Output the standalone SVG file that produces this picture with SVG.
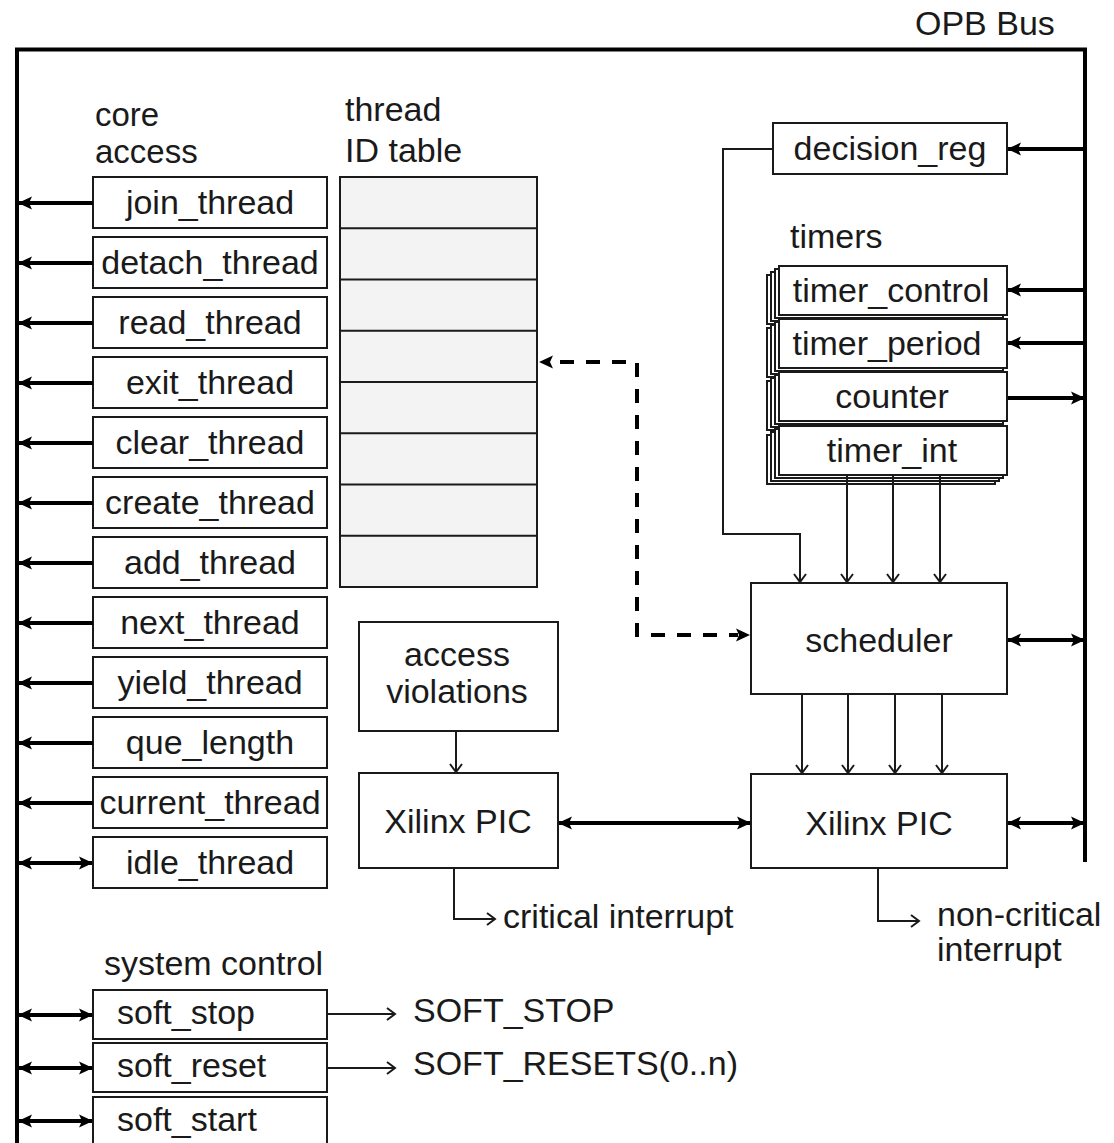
<svg xmlns="http://www.w3.org/2000/svg" width="1114" height="1143" viewBox="0 0 1114 1143">
<defs>
<style>
text{font-family:"Liberation Sans",Arial,sans-serif;font-size:34px;fill:#1a1a1a}
.c{text-anchor:middle}
.box{fill:#fff;stroke:#1a1a1a;stroke-width:2}
.tbl{fill:#f3f3f3;stroke:#1a1a1a;stroke-width:2}
.thick{fill:none;stroke:#000;stroke-width:4}
.thin{fill:none;stroke:#1a1a1a;stroke-width:2}
.dash{fill:none;stroke:#000;stroke-width:4;stroke-dasharray:14 12}
</style>
<marker id="fa" viewBox="0 0 14 14" markerWidth="14" markerHeight="14" refX="13" refY="7" orient="auto-start-reverse" markerUnits="userSpaceOnUse">
<path d="M0,0.5 L14,7 L0,13.5 L3,7 z" fill="#000"/>
</marker>
<marker id="oa" viewBox="0 0 12 14" markerWidth="12" markerHeight="14" refX="10" refY="7" orient="auto" markerUnits="userSpaceOnUse">
<path d="M2,1 L10,7 L2,13" fill="none" stroke="#1a1a1a" stroke-width="2"/>
</marker>
</defs>
<rect width="1114" height="1143" fill="#fff"/>

<g id="opb-bus">
<path class="thick" d="M17,1143 V49.5 H1085 V862"/>
<text x="915" y="35">OPB Bus</text>
</g>

<g id="core-access-label">
<text x="95" y="126" style="font-size:33px">core</text>
<text x="95" y="163" style="font-size:33px">access</text>
</g>

<g id="join_thread"><rect class="box" x="93" y="177" width="234" height="51"/><text class="c" x="210" y="214">join_thread</text></g>
<g id="detach_thread"><rect class="box" x="93" y="237" width="234" height="51"/><text class="c" x="210" y="274">detach_thread</text></g>
<g id="read_thread"><rect class="box" x="93" y="297" width="234" height="51"/><text class="c" x="210" y="334">read_thread</text></g>
<g id="exit_thread"><rect class="box" x="93" y="357" width="234" height="51"/><text class="c" x="210" y="394">exit_thread</text></g>
<g id="clear_thread"><rect class="box" x="93" y="417" width="234" height="51"/><text class="c" x="210" y="454">clear_thread</text></g>
<g id="create_thread"><rect class="box" x="93" y="477" width="234" height="51"/><text class="c" x="210" y="514">create_thread</text></g>
<g id="add_thread"><rect class="box" x="93" y="537" width="234" height="51"/><text class="c" x="210" y="574">add_thread</text></g>
<g id="next_thread"><rect class="box" x="93" y="597" width="234" height="51"/><text class="c" x="210" y="634">next_thread</text></g>
<g id="yield_thread"><rect class="box" x="93" y="657" width="234" height="51"/><text class="c" x="210" y="694">yield_thread</text></g>
<g id="que_length"><rect class="box" x="93" y="717" width="234" height="51"/><text class="c" x="210" y="754">que_length</text></g>
<g id="current_thread"><rect class="box" x="93" y="777" width="234" height="51"/><text class="c" x="210" y="814">current_thread</text></g>
<g id="idle_thread"><rect class="box" x="93" y="837" width="234" height="51"/><text class="c" x="210" y="874">idle_thread</text></g>

<g id="thread-id-table">
<text x="345" y="121">thread</text>
<text x="345" y="162">ID table</text>
<rect class="tbl" x="340" y="177" width="197" height="410"/>
<path class="thin" d="M340,228.25 H537 M340,279.5 H537 M340,330.75 H537 M340,382 H537 M340,433.25 H537 M340,484.5 H537 M340,535.75 H537"/>
</g>

<g id="decision_reg"><rect class="box" x="773" y="123" width="234" height="51"/><text class="c" x="890" y="160">decision_reg</text></g>

<g id="timers">
<text x="790" y="248">timers</text>
<g id="timer_control">
<rect class="box" x="767" y="275" width="228" height="49"/><rect class="box" x="771" y="272" width="228" height="49"/><rect class="box" x="775" y="269" width="228" height="49"/>
<rect class="box" x="779" y="266" width="228" height="49"/><text class="c" x="891" y="302">timer_control</text>
</g>
<g id="timer_period">
<rect class="box" x="767" y="328" width="228" height="49"/><rect class="box" x="771" y="325" width="228" height="49"/><rect class="box" x="775" y="322" width="228" height="49"/>
<rect class="box" x="779" y="319" width="228" height="49"/><text class="c" x="887" y="355">timer_period</text>
</g>
<g id="counter">
<rect class="box" x="767" y="381" width="228" height="49"/><rect class="box" x="771" y="378" width="228" height="49"/><rect class="box" x="775" y="375" width="228" height="49"/>
<rect class="box" x="779" y="372" width="228" height="49"/><text class="c" x="892" y="408">counter</text>
</g>
<g id="timer_int">
<rect class="box" x="767" y="435" width="228" height="49"/><rect class="box" x="771" y="432" width="228" height="49"/><rect class="box" x="775" y="429" width="228" height="49"/>
<rect class="box" x="779" y="426" width="228" height="49"/><text class="c" x="892" y="462">timer_int</text>
</g>
</g>

<g id="scheduler"><rect class="box" x="751" y="583" width="256" height="111"/><text class="c" x="879" y="652">scheduler</text></g>
<g id="xilinx-pic-right"><rect class="box" x="751" y="774" width="256" height="94"/><text class="c" x="879" y="835">Xilinx PIC</text></g>
<g id="access-violations"><rect class="box" x="359" y="622" width="199" height="109"/><text class="c" x="457" y="666">access</text><text class="c" x="457" y="703">violations</text></g>
<g id="xilinx-pic-left"><rect class="box" x="359" y="773" width="199" height="95"/><text class="c" x="458" y="833">Xilinx PIC</text></g>

<g id="system-control">
<text x="104" y="975">system control</text>
<g id="soft_stop"><rect class="box" x="93" y="990" width="234" height="49"/><text x="117" y="1024">soft_stop</text></g>
<g id="soft_reset"><rect class="box" x="93" y="1043" width="234" height="49"/><text x="117" y="1077">soft_reset</text></g>
<g id="soft_start"><rect class="box" x="93" y="1097" width="234" height="60"/><text x="117" y="1131">soft_start</text></g>
</g>

<g id="outputs">
<text x="413" y="1022">SOFT_STOP</text>
<text x="413" y="1075">SOFT_RESETS(0..n)</text>
<text x="503" y="928">critical interrupt</text>
<text x="937" y="926">non-critical</text>
<text x="937" y="961">interrupt</text>
</g>

<g id="connectors">
<path class="thick" marker-end="url(#fa)" d="M93,203 H19"/>
<path class="thick" marker-end="url(#fa)" d="M93,263 H19"/>
<path class="thick" marker-end="url(#fa)" d="M93,323 H19"/>
<path class="thick" marker-end="url(#fa)" d="M93,383 H19"/>
<path class="thick" marker-end="url(#fa)" d="M93,443 H19"/>
<path class="thick" marker-end="url(#fa)" d="M93,503 H19"/>
<path class="thick" marker-end="url(#fa)" d="M93,563 H19"/>
<path class="thick" marker-end="url(#fa)" d="M93,623 H19"/>
<path class="thick" marker-end="url(#fa)" d="M93,683 H19"/>
<path class="thick" marker-end="url(#fa)" d="M93,743 H19"/>
<path class="thick" marker-end="url(#fa)" d="M93,803 H19"/>
<path class="thick" marker-start="url(#fa)" marker-end="url(#fa)" d="M19,863 H92"/>
<path class="thick" marker-start="url(#fa)" marker-end="url(#fa)" d="M19,1015 H92"/>
<path class="thick" marker-start="url(#fa)" marker-end="url(#fa)" d="M19,1068 H92"/>
<path class="thick" marker-start="url(#fa)" marker-end="url(#fa)" d="M19,1121 H92"/>
<path class="thin" marker-end="url(#oa)" d="M327,1014 H395"/>
<path class="thin" marker-end="url(#oa)" d="M327,1068 H395"/>

<path class="thick" marker-end="url(#fa)" d="M1085,149 H1008"/>
<path class="thick" marker-end="url(#fa)" d="M1085,290 H1008"/>
<path class="thick" marker-end="url(#fa)" d="M1085,343 H1008"/>
<path class="thick" marker-end="url(#fa)" d="M1008,398 H1084"/>
<path class="thick" marker-start="url(#fa)" marker-end="url(#fa)" d="M1008,640 H1084"/>
<path class="thick" marker-start="url(#fa)" marker-end="url(#fa)" d="M1008,823 H1084"/>
<path class="thick" marker-start="url(#fa)" marker-end="url(#fa)" d="M559,823 H750"/>

<path class="thin" marker-end="url(#oa)" d="M773,149 H723 V534 H800 V582"/>
<path class="thin" marker-end="url(#oa)" d="M847,475 V582"/>
<path class="thin" marker-end="url(#oa)" d="M893,475 V582"/>
<path class="thin" marker-end="url(#oa)" d="M940,475 V582"/>
<path class="thin" marker-end="url(#oa)" d="M802,694 V773"/>
<path class="thin" marker-end="url(#oa)" d="M848,694 V773"/>
<path class="thin" marker-end="url(#oa)" d="M895,694 V773"/>
<path class="thin" marker-end="url(#oa)" d="M942,694 V773"/>
<path class="thin" marker-end="url(#oa)" d="M456,731 V772"/>
<path class="thin" marker-end="url(#oa)" d="M454,868 V919 H495"/>
<path class="thin" marker-end="url(#oa)" d="M878,868 V921 H919"/>

<path class="dash" d="M560,362 H637 V635 H738"/>
<path fill="#000" d="M539,362 L553,355.5 L550,362 L553,368.5 z"/>
<path fill="#000" d="M750,635 L736,628.5 L739,635 L736,641.5 z"/>
</g>
</svg>
